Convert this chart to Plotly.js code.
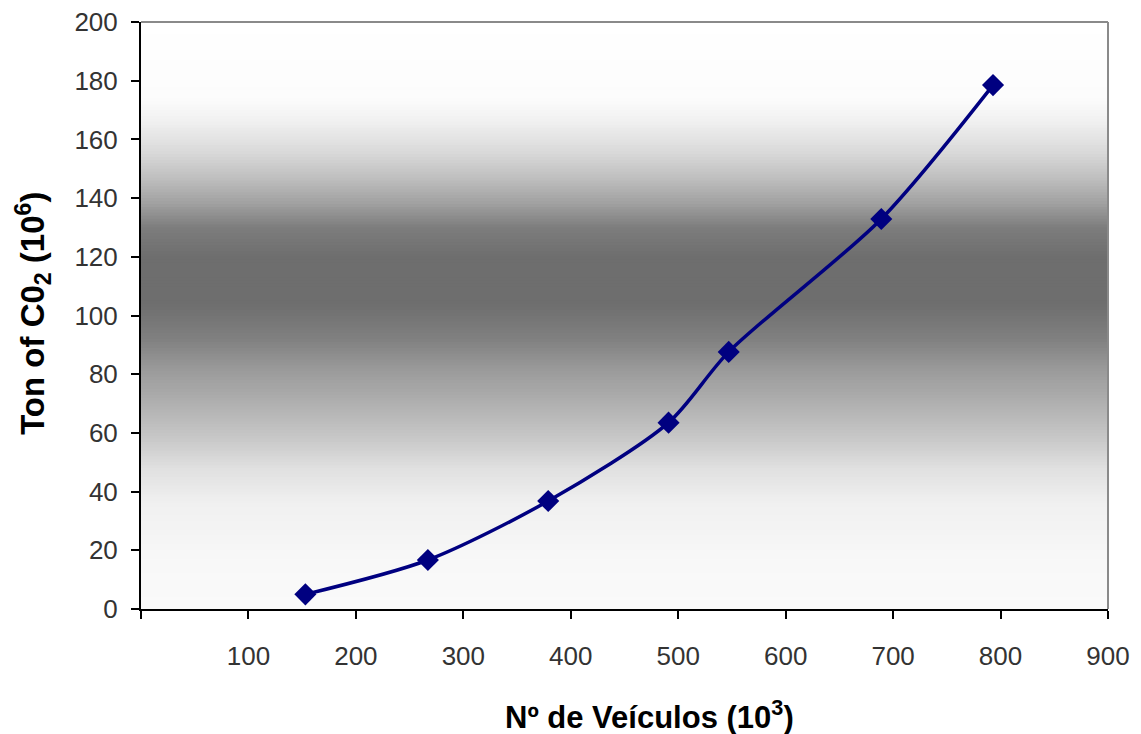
<!DOCTYPE html>
<html>
<head>
<meta charset="utf-8">
<script src="https://cdn.plot.ly/plotly-3.0.1.min.js"></script>
<style>html,body{margin:0;padding:0;background:#fff;}#chart{width:1141px;height:734px;}</style>
</head>
<body>
<div id="chart"></div>
<script>
// Data
const vehicles = [153, 267, 379, 491, 547, 689, 793];      // Nº de Veículos (10^3)
const co2 = [5, 16.7, 36.8, 63.5, 87.6, 132.9, 178.5];     // Ton of CO2 (10^6)
const xTickVals = [0, 100, 200, 300, 400, 500, 600, 700, 800, 900];
const xTickText = ['', '100', '200', '300', '400', '500', '600', '700', '800', '900'];
const yTickVals = [0, 20, 40, 60, 80, 100, 120, 140, 160, 180, 200];
const xTitle = 'Nº de Veículos (10<sup>3</sup>)';
const yTitle = 'Ton of C0<sub>2</sub> (10<sup>6</sup>)';

// Background vertical gradient (style): stops as [fraction from bottom, gray level]
const gradStops = [[0,250],[0.08,248],[0.18,240],[0.24,224],[0.29,200],[0.35,176],[0.41,153],[0.46,128],[0.52,110],[0.60,110],[0.65,125],[0.69,160],[0.74,195],[0.78,218],[0.83,240],[0.87,252],[1,255]];
function grayAt(f){
  for(let i=0;i<gradStops.length-1;i++){
    const a=gradStops[i], b=gradStops[i+1];
    if(f>=a[0] && f<=b[0]){
      const t=(f-a[0])/(b[0]-a[0]);
      return Math.round(a[1]+(b[1]-a[1])*t);
    }
  }
  return 255;
}
const shapes=[];
const N=200;
for(let i=0;i<N;i++){
  const f0=i/N, f1=(i+1)/N;
  const g=grayAt((f0+f1)/2);
  shapes.push({type:'rect', xref:'x domain', yref:'y domain', x0:0, x1:1, y0:f0, y1:f1+0.002,
    fillcolor:`rgb(${g},${g},${g})`, line:{width:0}, layer:'below'});
}
// frame: top and right gray
shapes.push({type:'line', xref:'x domain', yref:'y domain', x0:0, x1:1, y0:1, y1:1, line:{color:'#8a8a8a', width:2}, layer:'above'});
shapes.push({type:'line', xref:'x domain', yref:'y domain', x0:1, x1:1, y0:0, y1:1, line:{color:'#8a8a8a', width:2}, layer:'above'});

const trace = {
  x: vehicles, y: co2, type:'scatter', mode:'lines+markers',
  line:{color:'#000080', width:3.5, shape:'spline', smoothing:0.8},
  marker:{symbol:'diamond', size:17, color:'#000080'},
  hoverinfo:'x+y'
};

const tickFont = {family:'"Liberation Sans", Arial, sans-serif', size:26, color:'#333'};
const titleFont = {family:'"Liberation Sans", Arial, sans-serif', size:31, color:'#000', weight:'bold'};
const layout = {
  width:1141, height:734,
  margin:{l:141, r:33, t:22, b:125, pad:0},
  paper_bgcolor:'#fff', plot_bgcolor:'#fff',
  showlegend:false,
  shapes: shapes,
  xaxis:{
    range:[0,900], tickvals:xTickVals, ticktext:xTickText,
    showgrid:false, zeroline:false, showline:true, linecolor:'#000', linewidth:2,
    ticks:'outside', ticklen:8, tickwidth:2, tickcolor:'#000',
    ticklabelstandoff:15, tickfont:tickFont
  },
  yaxis:{
    range:[0,200], tickvals:yTickVals,
    showgrid:false, zeroline:false, showline:true, linecolor:'#000', linewidth:2,
    ticks:'outside', ticklen:8, tickwidth:2, tickcolor:'#000',
    ticklabelstandoff:8, tickfont:tickFont
  },
  annotations:[
    {text:xTitle, xref:'paper', yref:'paper', x:0.526, y:-0.181, xanchor:'center', yanchor:'middle', showarrow:false, font:titleFont},
    {text:yTitle, xref:'paper', yref:'paper', x:-0.112, y:0.504, xanchor:'center', yanchor:'middle', textangle:-90, showarrow:false, font:Object.assign({}, titleFont, {size:33})}
  ]
};
Plotly.newPlot('chart', [trace], layout, {displayModeBar:false, staticPlot:true});
</script>
</body>
</html>
